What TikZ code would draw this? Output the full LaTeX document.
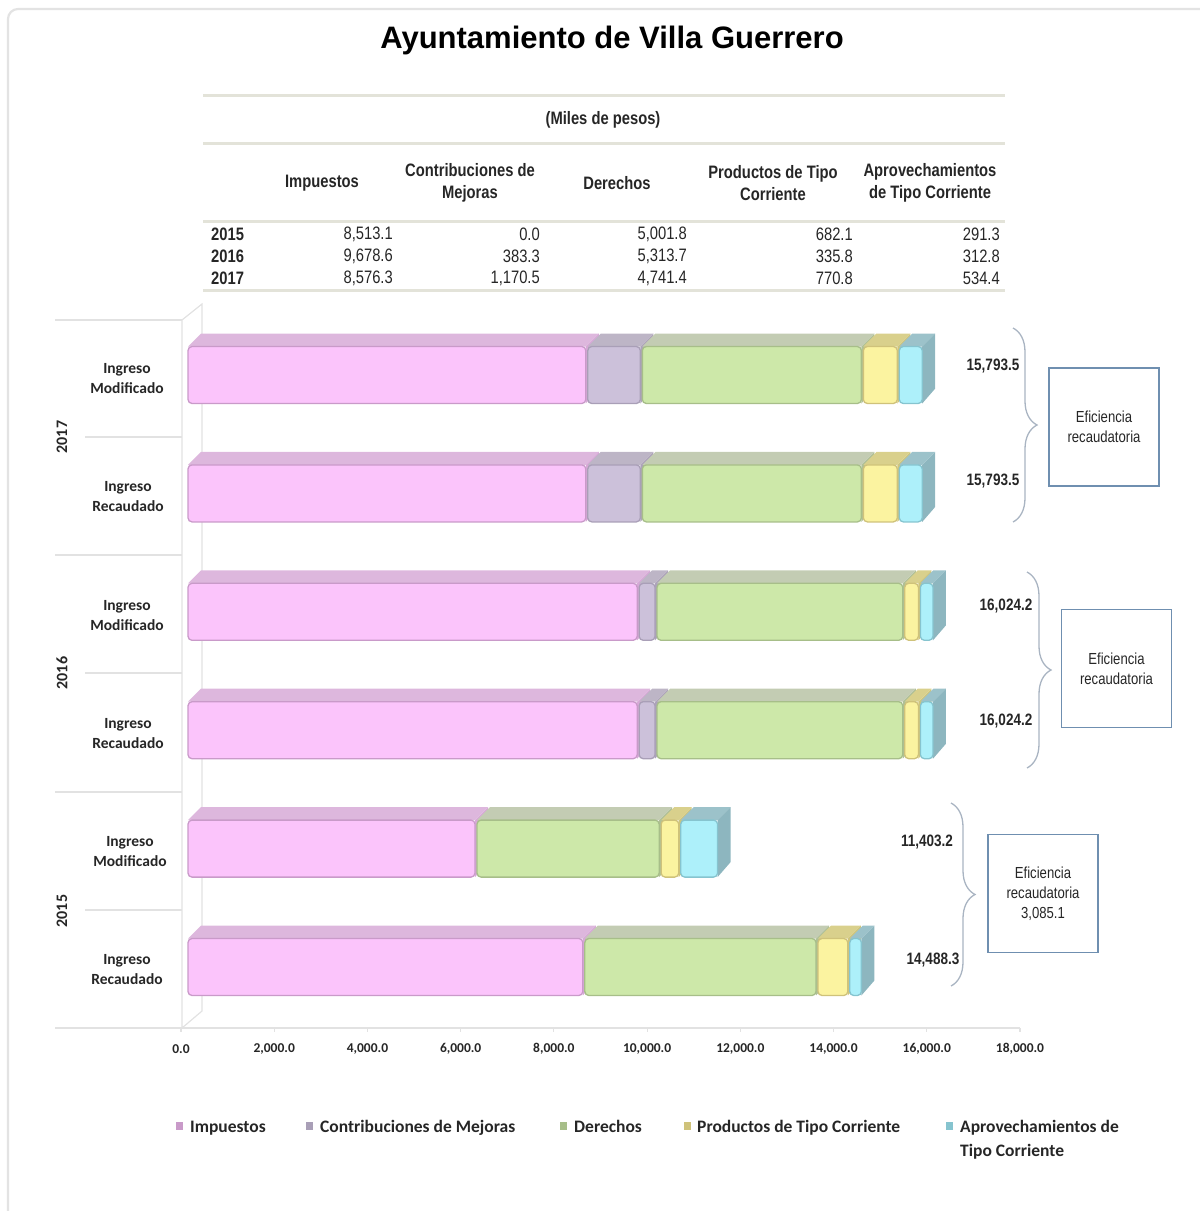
\documentclass[tikz,border=0pt]{standalone}
\usepackage{fontspec}
\setmainfont{Liberation Sans}
\newfontfamily\narrowf[FakeStretch=0.82]{Liberation Sans}
\newfontfamily\calf{Carlito}
\usetikzlibrary{decorations.pathreplacing}

\definecolor{impF}{HTML}{FBC4FB}\definecolor{impT}{HTML}{DDB7DD}\definecolor{impS}{HTML}{D7A9D7}\definecolor{impB}{HTML}{C99AC9}
\definecolor{conF}{HTML}{CCC1DA}\definecolor{conT}{HTML}{BDB5C6}\definecolor{conS}{HTML}{ADA3BA}\definecolor{conB}{HTML}{A99FB7}
\definecolor{derF}{HTML}{CDE8A9}\definecolor{derT}{HTML}{C3CCB3}\definecolor{derS}{HTML}{B0C096}\definecolor{derB}{HTML}{A7BE89}
\definecolor{proF}{HTML}{FBF3A0}\definecolor{proT}{HTML}{D9D08C}\definecolor{proS}{HTML}{CFC57C}\definecolor{proB}{HTML}{CFC27A}
\definecolor{aprF}{HTML}{ADF0FA}\definecolor{aprT}{HTML}{9CC2CA}\definecolor{aprS}{HTML}{8DB6BF}\definecolor{aprB}{HTML}{86C4CF}
\definecolor{gridc}{HTML}{E2E2E2}
\definecolor{tabline}{HTML}{E3E3D9}
\definecolor{bracec}{HTML}{A9B4C2}
\definecolor{boxc}{HTML}{6F8FB0}
\definecolor{txt}{HTML}{262626}

\def\barsc{0.046611}
\def\dd{13}
\newcommand\barseg[4]{%
  \pgfmathtruncatemacro\segok{(#2-#1)>1}%
  \ifnum\segok=1
    \pgfmathsetmacro\ya{#3}\pgfmathsetmacro\yb{#3+57}%
    \fill[#4S] (#2-1,\ya) -- (#2-1+\dd,\ya-\dd) -- (#2-1+\dd,\yb-\dd-2) -- (#2-1,\yb) -- cycle;
    \fill[#4T] (#1+1,\ya) -- (#1+1+\dd,\ya-\dd) -- (#2-1+\dd,\ya-\dd) -- (#2-1,\ya) -- cycle;
    \filldraw[fill=#4F, draw=#4B, line width=1.3, rounded corners=4] (#1+1,\ya) rectangle (#2-1,\yb);
  \fi}
\newcommand\drawbar[6]{%
  \pgfmathsetmacro\xA{187}%
  \pgfmathsetmacro\xB{\xA+#2*\barsc}%
  \pgfmathsetmacro\xC{\xB+#3*\barsc}%
  \pgfmathsetmacro\xD{\xC+#4*\barsc}%
  \pgfmathsetmacro\xE{\xD+#5*\barsc}%
  \pgfmathsetmacro\xF{\xE+#6*\barsc}%
  \pgfmathsetmacro\yT{#1-28.5}%
  \barseg{\xA}{\xB}{\yT}{imp}%
  \barseg{\xB}{\xC}{\yT}{con}%
  \barseg{\xC}{\xD}{\yT}{der}%
  \barseg{\xD}{\xE}{\yT}{pro}%
  \barseg{\xE}{\xF}{\yT}{apr}%
}

\begin{document}
\begin{tikzpicture}[x=1pt,y=-1pt,
  title/.style={font=\bfseries\fontsize{31}{34}\selectfont, text=black},
  tabhead/.style={font=\narrowf\bfseries\fontsize{18}{22}\selectfont, align=center, text=txt, inner sep=0},
  tabyear/.style={font=\narrowf\bfseries\fontsize{18}{22}\selectfont, anchor=west, text=txt, inner sep=0},
  tabval/.style={font=\narrowf\fontsize{18}{22}\selectfont, anchor=east, text=txt, inner sep=0},
  catlab/.style={font=\calf\bfseries\fontsize{15.5}{20}\selectfont, align=center, text=txt, inner sep=0},
  yearlab/.style={font=\calf\bfseries\fontsize{16}{20}\selectfont, rotate=90, text=txt, inner sep=0},
  ticklab/.style={font=\calf\bfseries\fontsize{13.5}{16}\selectfont, text=txt, inner sep=0},
  totlab/.style={font=\narrowf\bfseries\fontsize{16.5}{20}\selectfont, text=txt, inner sep=0},
  effbox/.style={draw=boxc, line width=1.3, minimum width=110, minimum height=118, align=center,
                 font=\narrowf\fontsize{16}{20}\selectfont, text=txt, inner sep=0},
  bracestyle/.style={draw=bracec, line width=1.3, decorate, decoration={brace, amplitude=24}},
  legtext/.style={font=\calf\bfseries\fontsize{17.5}{24}\selectfont, text=txt, inner sep=0},
  tabrule/.style={draw=tabline, line width=3},
  grid/.style={draw=gridc, line width=1.2}
]
\useasboundingbox (0,0) rectangle (1200,1211);
% frame
\draw[gray!22, line width=2.2, rounded corners=10] (8,1240) -- (8,9) -- (1240,9);

% title
\node[title] (title) at (612,40) {Ayuntamiento de Villa Guerrero};

% table
\draw[tabrule] (203,95) -- (1005,95);
\draw[tabrule] (203,143) -- (1005,143);
\draw[tabrule] (203,221) -- (1005,221);
\draw[tabrule] (203,290) -- (1005,290);
\node[tabhead] (miles) at (603,120) {(Miles de pesos)};
\node[tabhead] (h1) at (322,183) {Impuestos};
\node[tabhead] (h2) at (470,183) {Contribuciones de\\Mejoras};
\node[tabhead] (h3) at (617,183) {Derechos};
\node[tabhead] (h4) at (773,183) {Productos de Tipo\\Corriente};
\node[tabhead] (h5) at (930,183) {Aprovechamientos\\de Tipo Corriente};
\node[tabyear] (y15) at (211,234) {2015};
\node[tabyear] (y16) at (211,256) {2016};
\node[tabyear] (y17) at (211,278) {2017};
\node[tabval] (a1) at (393,234) {8,513.1};
\node[tabval] (a2) at (540,234) {0.0};
\node[tabval] (a3) at (687,234) {5,001.8};
\node[tabval] (a4) at (853,234) {682.1};
\node[tabval] (a5) at (1000,234) {291.3};
\node[tabval] (b1) at (393,256) {9,678.6};
\node[tabval] (b2) at (540,256) {383.3};
\node[tabval] (b3) at (687,256) {5,313.7};
\node[tabval] (b4) at (853,256) {335.8};
\node[tabval] (b5) at (1000,256) {312.8};
\node[tabval] (c1) at (393,278) {8,576.3};
\node[tabval] (c2) at (540,278) {1,170.5};
\node[tabval] (c3) at (687,278) {4,741.4};
\node[tabval] (c4) at (853,278) {770.8};
\node[tabval] (c5) at (1000,278) {534.4};

% chart frame / back wall
\draw[grid] (182,320) -- (202,304) -- (202,1011) -- (182,1028) -- cycle;
\draw[grid] (55,320) -- (182,320);
\draw[grid] (55,555) -- (182,555);
\draw[grid] (55,792) -- (182,792);
\draw[grid] (55,1028) -- (1020,1028);
\draw[grid] (85,437) -- (182,437);
\draw[grid] (85,673) -- (182,673);
\draw[grid] (85,910) -- (182,910);
\foreach \k in {0,...,9} { \draw[grid] (181+93.22*\k,1028) -- (181+93.22*\k,1032); }

% bars
\drawbar{375}{8576.3}{1170.5}{4741.4}{770.8}{534.4}
\drawbar{493.4}{8576.3}{1170.5}{4741.4}{770.8}{534.4}
\drawbar{611.8}{9678.6}{383.3}{5313.7}{335.8}{312.8}
\drawbar{730.2}{9678.6}{383.3}{5313.7}{335.8}{312.8}
\drawbar{848.6}{6200}{0}{3950}{420}{833.2}
\drawbar{967}{8513.1}{0}{5001.8}{682.1}{291.3}

% category labels
\node[catlab] (m17) at (127,379) {Ingreso\\Modificado};
\node[catlab] (r17) at (128,497) {Ingreso\\Recaudado};
\node[catlab] (m16) at (127,616) {Ingreso\\Modificado};
\node[catlab] (r16) at (128,734) {Ingreso\\Recaudado};
\node[catlab] (m15) at (130,852) {Ingreso\\Modificado};
\node[catlab] (r15) at (127,970) {Ingreso\\Recaudado};
\node[yearlab] (g17) at (62,437) {2017};
\node[yearlab] (g16) at (62,673) {2016};
\node[yearlab] (g15) at (62,911) {2015};

% axis tick labels
\foreach \k/\lab in {0/0.0,1/{2,000.0},2/{4,000.0},3/{6,000.0},4/{8,000.0},5/{10,000.0},6/{12,000.0},7/{14,000.0},8/{16,000.0},9/{18,000.0}} {
  \node[ticklab] (t\k) at (181+93.22*\k,1049) {\lab};
}

% totals
\node[totlab] (tot1) at (993,366) {15,793.5};
\node[totlab] (tot2) at (993,481) {15,793.5};
\node[totlab] (tot3) at (1006,606) {16,024.2};
\node[totlab] (tot4) at (1006,721) {16,024.2};
\node[totlab] (tot5) at (927,842) {11,403.2};
\node[totlab] (tot6) at (933,960) {14,488.3};

% braces
\coordinate (br17a) at (1013,328); \coordinate (br17b) at (1013,522);
\coordinate (br16a) at (1027,572); \coordinate (br16b) at (1027,768);
\coordinate (br15a) at (951,803);  \coordinate (br15b) at (951,986);
\draw[bracestyle] (br17a) -- (br17b);
\draw[bracestyle] (br16a) -- (br16b);
\draw[bracestyle] (br15a) -- (br15b);

% efficiency boxes
\node[effbox] (e17) at (1104,427) {Eficiencia\\recaudatoria};
\node[effbox] (e16) at (1116.5,668.5) {Eficiencia\\recaudatoria};
\node[effbox] (e15) at (1043,893.5) {Eficiencia\\recaudatoria\\3,085.1};

% legend
\fill[impB] (176,1122) rectangle (183,1130);
\node[legtext, anchor=base west] (l1) at (190,1132) {Impuestos};
\fill[conB] (306,1122) rectangle (313,1130);
\node[legtext, anchor=base west] (l2) at (320,1132) {Contribuciones de Mejoras};
\fill[derB] (560,1122) rectangle (567,1130);
\node[legtext, anchor=base west] (l3) at (574,1132) {Derechos};
\fill[proB] (684,1122) rectangle (691,1130);
\node[legtext, anchor=base west] (l4) at (697,1132) {Productos de Tipo Corriente};
\fill[aprB] (946,1122) rectangle (953,1130);
\node[legtext, anchor=north west, align=left] (l5) at (960,1120) {Aprovechamientos de\\ Tipo Corriente};
\end{tikzpicture}
\end{document}
